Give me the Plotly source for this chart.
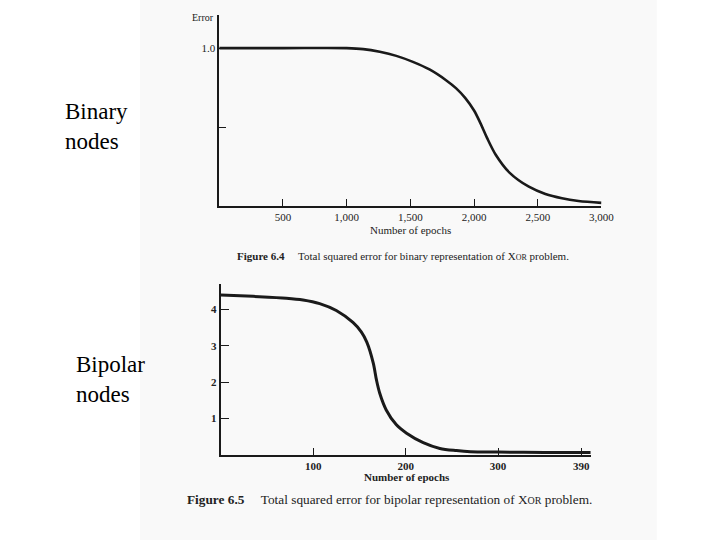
import plotly.graph_objects as go

# ---- data ----
binary_epochs = [0, 500, 1000, 1130, 1260, 1390, 1520, 1650, 1780, 1860, 1930, 2000, 2050,
                 2100, 2170, 2280, 2430, 2560, 2690, 2820, 3000]
binary_error = [1.0, 1.0, 1.0, 0.994, 0.977, 0.951, 0.913, 0.865, 0.797, 0.745, 0.685, 0.605,
                0.525, 0.435, 0.325, 0.21, 0.122, 0.076, 0.049, 0.032, 0.02]

bipolar_epochs = [0, 35, 71, 89, 107, 125, 143, 152, 158, 165, 168.5, 172, 179, 190, 201,
                  219, 237, 255, 270, 300, 350, 400]
bipolar_error = [4.40, 4.36, 4.31, 4.26, 4.16, 3.97, 3.64, 3.38, 3.10, 2.52, 2.05, 1.69, 1.23,
                 0.82, 0.59, 0.33, 0.17, 0.11, 0.08, 0.07, 0.06, 0.06]

binary_xticks = [500, 1000, 1500, 2000, 2500, 3000]
binary_xticklabels = ["500", "1,000", "1,500", "2,000", "2,500", "3,000"]
binary_yticks = [0.5, 1.0]
binary_yticklabels = ["", "1.0"]

bipolar_xticks = [100, 200, 300, 390]
bipolar_xticklabels = ["100", "200", "300", "390"]
bipolar_yticks = [1, 2, 3, 4]
bipolar_yticklabels = ["1", "2", "3", "4"]

W, H = 720, 540
KX = 1.018  # horizontal compensation observed in the rendered photo
def px(x): return x * KX / W
def py(y): return 1 - y / H

SERIF = "Liberation Serif"
INK = "#1a1a1a"

fig = go.Figure()
fig.add_trace(go.Scatter(x=binary_epochs, y=binary_error, mode="lines",
                         line=dict(color=INK, width=2.6, shape="spline", smoothing=0.9),
                         xaxis="x", yaxis="y", showlegend=False, hoverinfo="skip"))
fig.add_trace(go.Scatter(x=bipolar_epochs, y=bipolar_error, mode="lines",
                         line=dict(color=INK, width=3, shape="spline", smoothing=0.9),
                         xaxis="x2", yaxis="y2", showlegend=False, hoverinfo="skip"))

tickfont = dict(family=SERIF, size=11, color="#222")
boldtick = dict(family=SERIF, size=11, color="#222", weight="bold")
fig.update_layout(
    width=W, height=H, autosize=False, margin=dict(l=0, r=0, t=0, b=0),
    paper_bgcolor="white", plot_bgcolor="rgba(0,0,0,0)",
    xaxis=dict(domain=[px(219.3), px(601.7)], range=[0, 3000], anchor="y",
               showgrid=False, zeroline=False, showline=True, linecolor=INK, linewidth=1.5,
               tickvals=binary_xticks, ticktext=binary_xticklabels, ticks="inside",
               ticklen=7, tickcolor=INK, tickwidth=1, tickfont=tickfont),
    yaxis=dict(domain=[py(206), py(15)], range=[0, 1.21], anchor="x",
               showgrid=False, zeroline=False, showline=True, linecolor=INK, linewidth=1.5,
               tickvals=binary_yticks, ticktext=binary_yticklabels, ticks="inside",
               ticklen=7, tickcolor=INK, tickwidth=1, tickfont=tickfont),
    xaxis2=dict(domain=[px(220.8), px(591.7)], range=[0, 401], anchor="y2",
                showgrid=False, zeroline=False, showline=True, linecolor=INK, linewidth=2,
                tickvals=bipolar_xticks, ticktext=bipolar_xticklabels, ticks="inside",
                ticklen=7, tickcolor=INK, tickwidth=1, tickfont=boldtick),
    yaxis2=dict(domain=[py(454.6), py(284)], range=[0, 4.7], anchor="x2",
                showgrid=False, zeroline=False, showline=True, linecolor=INK, linewidth=2,
                tickvals=bipolar_yticks, ticktext=bipolar_yticklabels, ticks="inside",
                ticklen=8, tickcolor=INK, tickwidth=1, tickfont=boldtick),
)

# scanned page background
fig.add_shape(type="rect", xref="paper", yref="paper", x0=px(140), x1=px(657), y0=0, y1=1,
              fillcolor="#f9f9f9", line=dict(width=0), layer="below")

def ann(text, x, y, size, xanchor="center", bold=False, family=SERIF, color="#222"):
    fig.add_annotation(text=text, x=px(x), y=py(y), xref="paper", yref="paper",
                       xanchor=xanchor, yanchor="middle", showarrow=False, align="left",
                       font=dict(family=family, size=size, color=color,
                                 weight="bold" if bold else "normal"))

ann("Error", 203, 18, 10)
ann("Number of epochs", 411, 230, 11)
ann("<b>Figure 6.4</b>     Total squared error for binary representation of X<span style='font-size:8px'>OR</span> problem.",
    235, 256, 11, xanchor="left")

ann("Number of epochs", 407, 477, 11, bold=True)
ann("<b>Figure 6.5</b>     Total squared error for bipolar representation of X<span style='font-size:10px'>OR</span> problem.",
    185, 499, 13.3, xanchor="left")

ann("Binary<br>nodes", 63, 126, 23, xanchor="left", color="#000")
ann("Bipolar<br>nodes", 74, 379, 23, xanchor="left", color="#000")

fig.write_html("out.html", config={"responsive": False},
               post_script="document.body.style.margin='0';document.body.style.overflow='hidden';")
